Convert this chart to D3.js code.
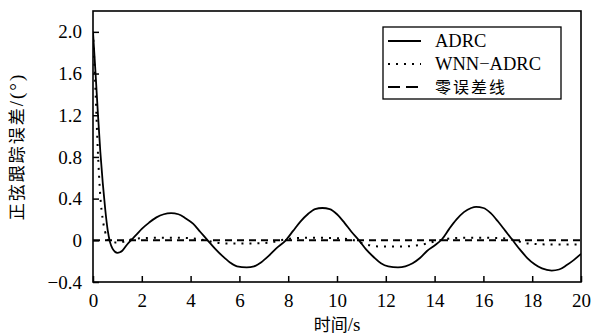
<!DOCTYPE html>
<html>
<head>
<meta charset="utf-8">
<script src="https://cdn.jsdelivr.net/npm/d3@7"></script>
<style>
  body { margin: 0; background: #fff; }
  svg { display: block; }
  text { fill: #000; }
</style>
</head>
<body>
<div id="chart"></div>
<script>
// time axis (s) and tracking error (deg)
const adrcT = [0, 0.1, 0.2, 0.3, 0.4, 0.5, 0.6, 0.7, 0.8, 0.9, 1.0, 1.1, 1.2, 1.4, 1.6, 1.8, 2.0, 2.3, 2.6, 2.9, 3.2, 3.5, 3.8, 4.1, 4.4, 4.7, 5.0, 5.3, 5.6, 5.9, 6.3, 6.6, 6.9, 7.2, 7.5, 7.9, 8.2, 8.5, 8.8, 9.1, 9.4, 9.7, 10.0, 10.3, 10.6, 10.9, 11.2, 11.5, 11.8, 12.1, 12.5, 12.8, 13.1, 13.4, 13.7, 14.0, 14.3, 14.6, 14.9, 15.2, 15.5, 15.7, 16.0, 16.3, 16.6, 16.9, 17.2, 17.5, 17.8, 18.1, 18.4, 18.8, 19.1, 19.4, 19.7, 20.0];
const adrcV = [2.0, 1.62, 1.22, 0.85, 0.55, 0.30, 0.10, -0.02, -0.08, -0.11, -0.12, -0.115, -0.10, -0.04, 0.01, 0.06, 0.11, 0.17, 0.22, 0.25, 0.26, 0.25, 0.21, 0.16, 0.08, 0.0, -0.08, -0.15, -0.21, -0.25, -0.26, -0.25, -0.21, -0.15, -0.08, 0.0, 0.09, 0.18, 0.25, 0.30, 0.31, 0.30, 0.25, 0.17, 0.08, 0.0, -0.09, -0.16, -0.22, -0.25, -0.26, -0.25, -0.22, -0.17, -0.10, -0.05, 0.01, 0.11, 0.20, 0.27, 0.31, 0.32, 0.31, 0.26, 0.18, 0.09, 0.0, -0.09, -0.17, -0.23, -0.27, -0.29, -0.28, -0.24, -0.19, -0.13];

const wnnT = [0, 0.1, 0.2, 0.3, 0.4, 0.5, 0.6, 0.7, 0.9, 1.1, 1.3, 1.6, 2.0, 3.0, 4.0, 4.6, 5.0, 5.5, 6.5, 7.3, 7.7, 8.2, 9.0, 10.0, 10.7, 11.2, 11.8, 12.6, 13.5, 14.2, 14.7, 15.7, 16.8, 17.3, 17.8, 18.8, 20.0];
const wnnV = [2.0, 1.45, 0.85, 0.42, 0.20, 0.08, 0.01, -0.01, -0.02, -0.02, -0.01, 0.01, 0.02, 0.025, 0.02, 0.0, -0.02, -0.03, -0.03, -0.02, 0.0, 0.02, 0.025, 0.02, 0.0, -0.04, -0.06, -0.06, -0.04, 0.0, 0.02, 0.025, 0.02, 0.0, -0.03, -0.04, -0.04];

const zeroT = [0, 20];
const zeroV = [0, 0];

const xTicks = [0, 2, 4, 6, 8, 10, 12, 14, 16, 18, 20];
const yTicks = [-0.4, 0, 0.4, 0.8, 1.2, 1.6, 2.0];
const yTickLabels = ["\u22120.4", "0", "0.4", "0.8", "1.2", "1.6", "2.0"];

const seriesNames = ["ADRC", "WNN\u2212ADRC", "零误差线"];

const W = 595, H = 335;
const margin = { left: 93, right: 14, top: 11, bottom: 53 };
const plotW = W - margin.left - margin.right;
const plotH = H - margin.top - margin.bottom;

const serif = "'Liberation Serif', 'Times New Roman', serif";
const cjk = "'Noto Sans CJK SC', sans-serif";

const svg = d3.select("#chart").append("svg")
  .attr("width", W)
  .attr("height", H);

const x = d3.scaleLinear().domain([0, 20]).range([0, plotW]);
const y = d3.scaleLinear().domain([-0.4, 2.2]).range([plotH, 0]);

const g = svg.append("g")
  .attr("transform", `translate(${margin.left},${margin.top})`);

svg.append("defs").append("clipPath").attr("id", "clip")
  .append("rect").attr("width", plotW).attr("height", plotH);

// Series lines
const line = d3.line()
  .x(d => x(d[0]))
  .y(d => y(d[1]))
  .curve(d3.curveMonotoneX);

const lines = g.append("g").attr("clip-path", "url(#clip)");

lines.append("path")
  .datum(zeroT.map((t, i) => [t, zeroV[i]]))
  .attr("d", line)
  .attr("fill", "none")
  .attr("stroke", "#000")
  .attr("stroke-width", 2)
  .attr("stroke-dasharray", "7,5");

lines.append("path")
  .datum(wnnT.map((t, i) => [t, wnnV[i]]))
  .attr("d", line)
  .attr("fill", "none")
  .attr("stroke", "#000")
  .attr("stroke-width", 2)
  .attr("stroke-dasharray", "2,6");

lines.append("path")
  .datum(adrcT.map((t, i) => [t, adrcV[i]]))
  .attr("d", line)
  .attr("fill", "none")
  .attr("stroke", "#000")
  .attr("stroke-width", 1.8);

// Axes, ticks pointing inward
const xAxis = g.append("g")
  .attr("transform", `translate(0,${plotH})`)
  .call(d3.axisBottom(x).tickValues(xTicks).tickSize(-6).tickSizeOuter(0).tickPadding(12));

const yAxis = g.append("g")
  .call(d3.axisLeft(y).tickValues(yTicks).tickSize(-6).tickSizeOuter(0).tickPadding(11)
    .tickFormat((d, i) => yTickLabels[i]));

[xAxis, yAxis].forEach(a => {
  a.select(".domain").remove();
  a.selectAll("line").attr("stroke", "#000").attr("stroke-width", 1.5);
  a.selectAll("text")
    .style("font-family", serif)
    .style("font-size", "19px")
    .attr("fill", "#000");
});

// Frame
g.append("rect")
  .attr("width", plotW)
  .attr("height", plotH)
  .attr("fill", "none")
  .attr("stroke", "#000")
  .attr("stroke-width", 1.6);

// Axis titles
svg.append("text")
  .attr("x", margin.left + plotW / 2)
  .attr("y", 331)
  .attr("text-anchor", "middle")
  .style("font-size", "17px")
  .html(`<tspan style="font-family:${cjk}">时间</tspan><tspan style="font-family:${serif};font-size:19px">/s</tspan>`);

svg.append("text")
  .attr("transform", `translate(23,${margin.top + plotH / 2}) rotate(-90)`)
  .attr("text-anchor", "middle")
  .style("font-size", "17px")
  .style("letter-spacing", "2px")
  .html(`<tspan style="font-family:${cjk}">正弦跟踪误差</tspan><tspan style="font-family:${serif};font-size:19px">/(°)</tspan>`);

// Legend
const legend = svg.append("g").attr("transform", "translate(383,27)");
legend.append("rect")
  .attr("width", 178)
  .attr("height", 72)
  .attr("fill", "#fff")
  .attr("stroke", "#000")
  .attr("stroke-width", 1.3);

const legendDash = [null, "2,6", "12,6"];
seriesNames.forEach((name, i) => {
  const ly = 14 + i * 23;
  legend.append("line")
    .attr("x1", 5).attr("x2", 38)
    .attr("y1", ly).attr("y2", ly)
    .attr("stroke", "#000")
    .attr("stroke-width", i === 0 ? 1.8 : 2)
    .attr("stroke-dasharray", legendDash[i]);
  legend.append("text")
    .attr("x", 52)
    .attr("y", ly)
    .attr("dy", "0.35em")
    .style("font-family", i === 2 ? cjk : serif)
    .style("font-size", i === 2 ? "16px" : "18.5px")
    .style("letter-spacing", i === 2 ? "2px" : null)
    .text(name);
});
</script>
</body>
</html>
